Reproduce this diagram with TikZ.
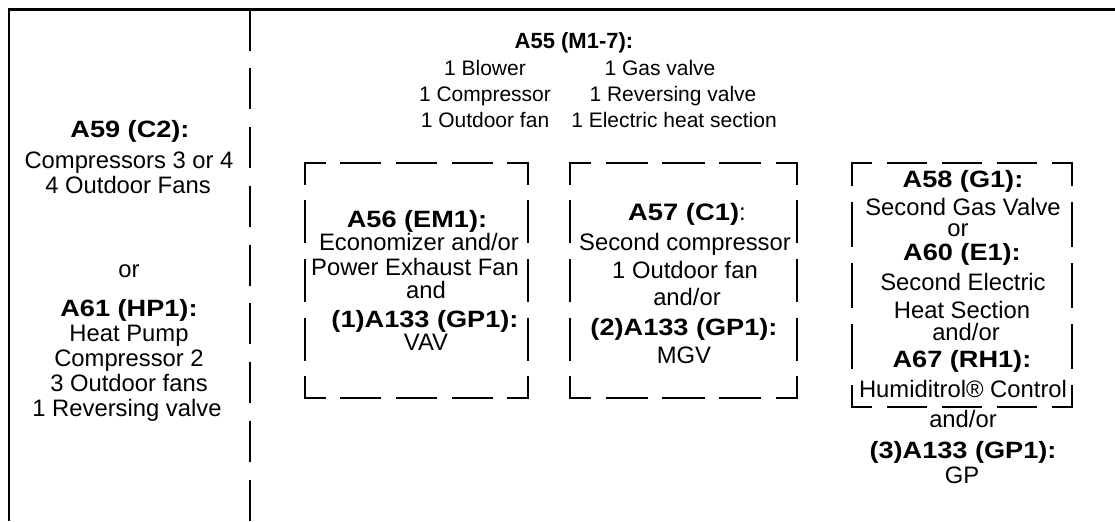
\documentclass[tikz,border=0pt]{standalone}
\usepackage{fontspec}
\setmainfont{Liberation Sans}
\newfontfamily\bfam[FakeStretch=1.15]{Liberation Sans}
\newcommand\myDashSide[4]{%
  \pgfmathsetmacro\dlen{veclen(#3-#1,#4-#2)*0.5/4}%
  \pgfmathsetmacro\don{0.7*\dlen}%
  \pgfmathsetmacro\doff{0.3*\dlen}%
  \pgfmathsetmacro\dph{0.35*\dlen}%
  \draw[boxline, dash pattern=on \don pt off \doff pt, dash phase=\dph pt] (#1,#2) -- (#3,#4);}
\newcommand\myDashBox[4]{%
  \myDashSide{#1}{#2}{#3}{#2}%
  \myDashSide{#3}{#2}{#3}{#4}%
  \myDashSide{#3}{#4}{#1}{#4}%
  \myDashSide{#1}{#4}{#1}{#2}}
\begin{document}
\begin{tikzpicture}[x=0.5pt,y=-0.5pt,
  frame/.style={line width=1.3pt},
  boxline/.style={line width=1.15pt, line cap=rect},
  sepline/.style={line width=1.25pt, dash pattern=on 20.5pt off 8.875pt},
  txt/.style={anchor=base, inner sep=0pt, font=\fontsize{11.9}{14}\selectfont},
  btxt/.style={anchor=base, inner sep=0pt, font=\bfam\bfseries\fontsize{11.8}{14}\selectfont},
  ttxt/.style={anchor=base, inner sep=0pt, font=\fontsize{10.5}{12}\selectfont},
  tbtxt/.style={anchor=base, inner sep=0pt, font=\bfseries\fontsize{11}{13}\selectfont}]
\useasboundingbox (0,0) rectangle (1115,521);
% frame
\draw[frame] (9,521) -- (9,9.5) -- (1115,9.5);
\draw[sepline] (250,9.5) -- (250,521);
% left panel
\node[btxt] (l1) at (130,137) {A59 (C2):};
\node[txt] (l2) at (129,168) {Compressors 3 or 4};
\node[txt] (l3) at (128,193) {4 Outdoor Fans};
\node[txt] (l4) at (129,277) {or};
\node[btxt] (l5) at (129,316) {A61 (HP1):};
\node[txt] (l6) at (129,341) {Heat Pump};
\node[txt] (l7) at (129,366) {Compressor 2};
\node[txt] (l8) at (129,391) {3 Outdoor fans};
\node[txt] (l9) at (127,416) {1 Reversing valve};
% top block
\node[tbtxt] (t0) at (574,48) {A55 (M1-7):};
\node[ttxt] (t1) at (485,75) {1 Blower};
\node[ttxt] (t2) at (485,101) {1 Compressor};
\node[ttxt] (t3) at (485,127) {1 Outdoor fan};
\node[ttxt] (t4) at (660,75) {1 Gas valve};
\node[ttxt] (t5) at (673,101) {1 Reversing valve};
\node[ttxt] (t6) at (674,127) {1 Electric heat section};
% box 1
\myDashBox{305}{163}{528}{398}
\node[btxt] (a1) at (417,227) {A56 (EM1):};
\node[txt] (a2) at (419,250) {Economizer and/or};
\node[txt] (a3) at (415,275) {Power Exhaust Fan};
\node[txt] (a4) at (426,298) {and};
\node[btxt] (a5) at (425,327) {(1)A133 (GP1):};
\node[txt] (a6) at (426,350) {VAV};
% box 2
\myDashBox{570}{163}{797}{398}
\node[txt] (b1) at (687,220) {{\bfam\bfseries A57 (C1)}:};
\node[txt] (b2) at (685,250) {Second compressor};
\node[txt] (b3) at (685,278) {1 Outdoor fan};
\node[txt] (b4) at (687,305) {and/or};
\node[btxt] (b5) at (684,335) {(2)A133 (GP1):};
\node[txt] (b6) at (684,363) {MGV};
% box 3
\myDashBox{852}{163}{1072}{407}
\node[btxt] (c1) at (963,187) {A58 (G1):};
\node[txt] (c2) at (963,215) {Second Gas Valve};
\node[txt] (c3) at (958,236) {or};
\node[btxt] (c4) at (962,260) {A60 (E1):};
\node[txt] (c5) at (963,290) {Second Electric};
\node[txt] (c6) at (962,318) {Heat Section};
\node[txt] (c7) at (966,340) {and/or};
\node[btxt] (c8) at (962,367) {A67 (RH1):};
\node[txt] (c9) at (963,397) {Humiditrol® Control};
\node[txt] (c10) at (963,427) {and/or};
\node[btxt] (c11) at (963,458) {(3)A133 (GP1):};
\node[txt] (c12) at (962,483) {GP};
\end{tikzpicture}
\end{document}
